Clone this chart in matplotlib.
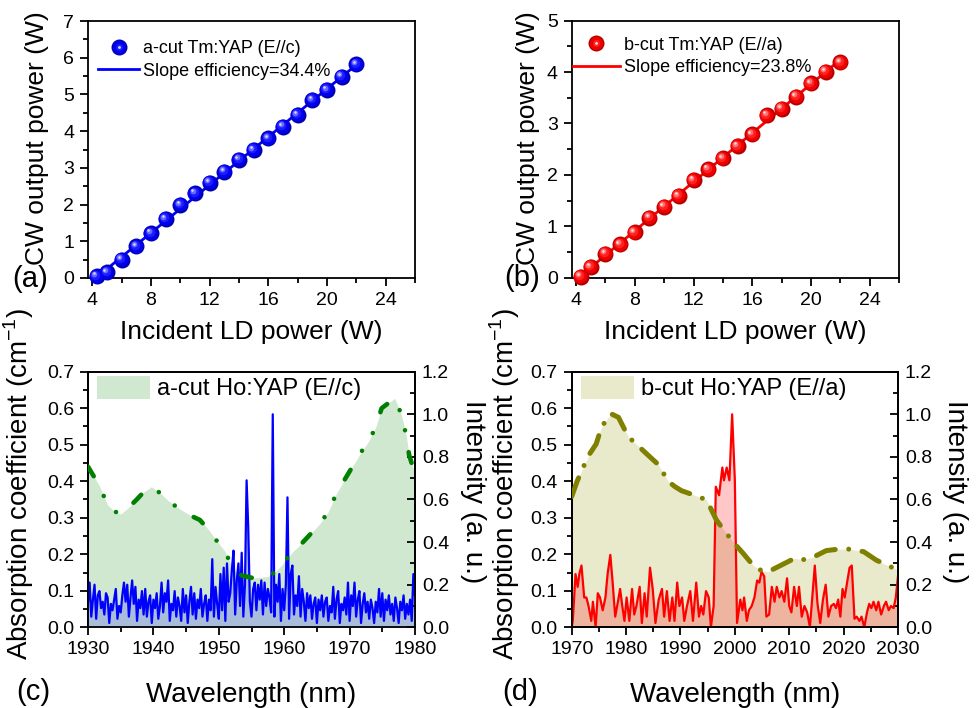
import numpy as np
import matplotlib.pyplot as plt
from matplotlib.lines import Line2D
from matplotlib.patches import Patch
from matplotlib.legend_handler import HandlerTuple
from matplotlib.ticker import MultipleLocator, FormatStrFormatter
from matplotlib.transforms import offset_copy

plt.rcParams['font.family'] = ['Liberation Sans', 'DejaVu Sans']
plt.rcParams['mathtext.fontset'] = 'custom'
plt.rcParams['mathtext.rm'] = 'Liberation Sans'
plt.rcParams['lines.scale_dashes'] = False

# ---------------- CW laser output ----------------
pump_a = [4.3, 5, 6, 7, 8, 9, 10, 11, 12, 13, 14, 15, 16, 17, 18, 19, 20, 21, 22]
power_a = [0.05, 0.15, 0.50, 0.86, 1.22, 1.61, 1.99, 2.31, 2.60, 2.90, 3.22, 3.49,
           3.80, 4.12, 4.44, 4.85, 5.12, 5.48, 5.82]
pump_b = [4.3, 5, 6, 7, 8, 9, 10, 11, 12, 13, 14, 15, 16, 17, 18, 19, 20, 21, 22]
power_b = [0.02, 0.21, 0.47, 0.65, 0.88, 1.17, 1.38, 1.59, 1.90, 2.11, 2.32, 2.56,
           2.79, 3.16, 3.29, 3.52, 3.78, 4.01, 4.19]

# ---------------- absorption (left axis) ----------------
wl_abs_c = [1930, 1931, 1931.8, 1933, 1934, 1935, 1936.2, 1937.4, 1938.5, 1939.7,
            1941, 1942.2, 1943.3, 1944.4, 1945.8, 1947.1, 1948.4, 1949.6, 1950.9,
            1952.3, 1953.5, 1955.2, 1957.5, 1958.5, 1959.5, 1960.4, 1961.3, 1962.7,
            1964, 1965.5, 1966.7, 1968, 1969.5, 1970.6, 1971.8, 1972.8, 1974,
            1974.9, 1976, 1976.9, 1977.9, 1978.6, 1979.1, 1980]
abs_c = [0.44, 0.41, 0.385, 0.335, 0.318, 0.31, 0.328, 0.349, 0.37, 0.385,
         0.368, 0.348, 0.333, 0.32, 0.305, 0.294, 0.268, 0.239, 0.209,
         0.157, 0.142, 0.135, 0.139, 0.15, 0.168, 0.188, 0.207, 0.23,
         0.255, 0.285, 0.315, 0.367, 0.412, 0.445, 0.481, 0.506, 0.548,
         0.60, 0.615, 0.627, 0.584, 0.53, 0.472, 0.42]

wl_abs_d = [1970, 1971, 1972.1, 1973.3, 1974.5, 1975.5, 1976.5, 1977.2, 1978.6,
            1980.4, 1982.2, 1984, 1985.9, 1987.8, 1989, 1990.2, 1992.5, 1994.8,
            1996.6, 1998.2, 2000, 2001.5, 2003.4, 2004.8, 2006.1, 2008.5, 2011,
            2012.5, 2014.4, 2016.8, 2019, 2021.1, 2023.7, 2026, 2028, 2030]
abs_d = [0.358, 0.40, 0.438, 0.475, 0.502, 0.549, 0.57, 0.585, 0.575,
         0.522, 0.497, 0.472, 0.446, 0.399, 0.385, 0.374, 0.362, 0.349,
         0.294, 0.262, 0.228, 0.203, 0.169, 0.156, 0.152, 0.17, 0.189,
         0.185, 0.192, 0.21, 0.214, 0.214, 0.207, 0.184, 0.17, 0.157]

# ---------------- laser spectra (right axis) ----------------
wl_em_c = np.arange(1930, 1980.001, 0.25)
em_c = [0.12, 0.21, 0.05, 0.13, 0.20, 0.04, 0.15, 0.17, 0.09, 0.12,
        0.06, 0.16, 0.14, 0.02, 0.11, 0.08, 0.13, 0.18, 0.04, 0.10,
        0.07, 0.15, 0.21, 0.12, 0.20, 0.05, 0.14, 0.22, 0.11, 0.19,
        0.03, 0.13, 0.09, 0.17, 0.06, 0.18, 0.05, 0.12, 0.15, 0.02,
        0.13, 0.09, 0.16, 0.04, 0.10, 0.21, 0.07, 0.16, 0.12, 0.22,
        0.03, 0.11, 0.08, 0.17, 0.05, 0.14, 0.10, 0.03, 0.18, 0.07,
        0.15, 0.02, 0.12, 0.19, 0.06, 0.16, 0.04, 0.13, 0.09, 0.18,
        0.05, 0.11, 0.15, 0.03, 0.13, 0.08, 0.32, 0.05, 0.19, 0.11,
        0.04, 0.25, 0.08, 0.28, 0.03, 0.30, 0.12, 0.16, 0.27, 0.36,
        0.06, 0.22, 0.30, 0.10, 0.35, 0.05, 0.20, 0.69, 0.47, 0.12,
        0.05, 0.18, 0.21, 0.08, 0.20, 0.13, 0.22, 0.06, 0.21, 0.10,
        0.18, 0.14, 0.07, 1.00, 0.05, 0.20, 0.12, 0.25, 0.03, 0.18,
        0.08, 0.20, 0.61, 0.04, 0.25, 0.29, 0.06, 0.15, 0.10, 0.24,
        0.05, 0.18, 0.12, 0.03, 0.16, 0.09, 0.15, 0.04, 0.11, 0.14,
        0.02, 0.13, 0.08, 0.15, 0.05, 0.12, 0.14, 0.03, 0.10, 0.07,
        0.19, 0.04, 0.13, 0.17, 0.02, 0.11, 0.08, 0.14, 0.06, 0.21,
        0.03, 0.15, 0.10, 0.21, 0.05, 0.13, 0.17, 0.02, 0.11, 0.16,
        0.07, 0.12, 0.04, 0.13, 0.09, 0.02, 0.12, 0.07, 0.18, 0.05,
        0.16, 0.03, 0.13, 0.08, 0.15, 0.06, 0.11, 0.03, 0.14, 0.09,
        0.02, 0.12, 0.08, 0.15, 0.04, 0.11, 0.06, 0.13, 0.03, 0.25,
        0.15]

wl_em_d = [1970.0, 1970.2, 1970.7, 1971.1, 1971.4, 1971.8, 1972.3, 1972.7, 1973.1, 1973.6,
           1973.9, 1974.4, 1974.8, 1975.2, 1975.7, 1976.2, 1976.6, 1977.1, 1977.5, 1978.0,
           1978.5, 1978.9, 1979.3, 1979.7, 1980.1, 1980.6, 1981.1, 1981.5, 1981.9, 1982.5,
           1982.9, 1983.4, 1983.8, 1984.4, 1984.9, 1985.4, 1986.0, 1986.6, 1987.0, 1987.5,
           1988.0, 1988.5, 1988.9, 1989.4, 1989.8, 1990.3, 1990.7, 1991.2, 1991.8, 1992.3,
           1992.9, 1993.4, 1993.8, 1994.2, 1994.7, 1995.2, 1995.6, 1996.1, 1996.5, 1997.1,
           1997.7, 1998.0, 1998.5, 1999.0, 1999.5, 2000.0, 2000.4, 2001.0, 2001.4, 2001.7,
           2002.2, 2002.6, 2003.1, 2003.6, 2004.1, 2004.5, 2004.9, 2005.4, 2005.8, 2006.3,
           2006.8, 2007.3, 2007.7, 2008.2, 2008.6, 2009.1, 2009.6, 2010.0, 2010.4, 2010.9,
           2011.4, 2011.8, 2012.3, 2012.8, 2013.3, 2013.8, 2014.3, 2014.7, 2015.2, 2015.7,
           2016.2, 2016.7, 2017.2, 2017.7, 2018.2, 2018.6, 2019.0, 2019.4, 2019.8, 2020.2,
           2020.7, 2021.1, 2021.5, 2022.0, 2022.4, 2022.9, 2023.3, 2023.8, 2024.3, 2024.7,
           2025.1, 2025.5, 2026.0, 2026.4, 2026.9, 2027.4, 2027.8, 2028.3, 2028.7, 2029.2,
           2029.6, 2030.0]
em_d = [0.00, 0.03, 0.25, 0.19, 0.25, 0.29, 0.14, 0.14, 0.10, 0.03,
        0.12, 0.00, 0.16, 0.14, 0.08, 0.14, 0.25, 0.34, 0.22, 0.05,
        0.12, 0.18, 0.10, 0.03, 0.14, 0.03, 0.18, 0.06, 0.10, 0.19,
        0.02, 0.16, 0.05, 0.28, 0.18, 0.02, 0.13, 0.18, 0.05, 0.17,
        0.03, 0.14, 0.03, 0.21, 0.10, 0.14, 0.03, 0.10, 0.17, 0.03,
        0.21, 0.05, 0.10, 0.06, 0.17, 0.14, 0.00, 0.10, 0.66, 0.62,
        0.75, 0.69, 0.75, 0.69, 1.00, 0.69, 0.02, 0.13, 0.08, 0.14,
        0.03, 0.08, 0.10, 0.14, 0.22, 0.21, 0.26, 0.24, 0.05, 0.06,
        0.19, 0.12, 0.19, 0.14, 0.17, 0.12, 0.23, 0.10, 0.07, 0.19,
        0.10, 0.19, 0.05, 0.10, 0.07, 0.00, 0.16, 0.29, 0.11, 0.02,
        0.13, 0.20, 0.05, 0.10, 0.11, 0.09, 0.13, 0.05, 0.18, 0.14,
        0.22, 0.28, 0.29, 0.04, 0.05, 0.03, 0.05, 0.00, 0.07, 0.11,
        0.09, 0.12, 0.08, 0.12, 0.06, 0.10, 0.12, 0.08, 0.10, 0.09,
        0.14, 0.24]

W, H = 976, 708
fig = plt.figure(figsize=(W / 100, H / 100), dpi=100)


def box(x0, y0, x1, y1):
    # pixel box -> figure fraction
    return [x0 / W, 1 - y1 / H, (x1 - x0) / W, (y1 - y0) / H]


ax_a = fig.add_axes(box(88, 21, 415, 278))
ax_b = fig.add_axes(box(571.7, 20.7, 899, 277.7))
ax_c = fig.add_axes(box(88, 371.7, 415, 627.3))
ax_d = fig.add_axes(box(571.7, 371.7, 898, 627.3))


def style(ax):
    for s in ax.spines.values():
        s.set_linewidth(1.3)
    ax.tick_params(which='both', direction='out', width=1.3, labelsize=14,
                   top=False, right=False, pad=4)
    ax.tick_params(which='major', length=6)
    ax.tick_params(which='minor', length=3.5)


def balls(ax, x, y, shades, ms=11.5):
    # layered markers give the shaded sphere look
    layers = [(1.0, 0.0), (0.86, 0.45), (0.6, 1.1), (0.36, 1.7), (0.16, 2.0)]
    for (frac, off), col in zip(layers, shades):
        tr = offset_copy(ax.transData, fig=fig, x=-off, y=off, units='points')
        ax.plot(x, y, ls='none', marker='o', ms=ms * frac, mfc=col, mec='none',
                transform=tr, zorder=3, clip_on=False)


def cw_panel(ax, pump, power, color, shades, ymax, label, slope):
    fit = np.polyfit(pump, power, 1)
    xs = np.array([pump[0], pump[-1]])
    ax.plot(xs, np.polyval(fit, xs), color=color, lw=2, zorder=2)
    balls(ax, pump, power, shades)
    ax.set_xlim(3.7, 26)
    ax.set_ylim(0, ymax)
    ax.xaxis.set_major_locator(MultipleLocator(4))
    ax.xaxis.set_minor_locator(MultipleLocator(2))
    ax.yaxis.set_major_locator(MultipleLocator(1))
    ax.yaxis.set_minor_locator(MultipleLocator(0.5))
    style(ax)
    ax.set_xlabel('Incident LD power (W)', fontsize=19)
    ax.set_ylabel('CW output power (W)', fontsize=19)
    ball_h = (Line2D([], [], ls='none', marker='o', ms=11.5, mfc=shades[0], mec='none'),
              Line2D([], [], ls='none', marker='o', ms=9.5, mfc=shades[1], mec='none'),
              Line2D([], [], ls='none', marker='o', ms=5, mfc=shades[2], mec='none'),
              Line2D([], [], ls='none', marker='o', ms=2, mfc=shades[4], mec='none'))
    line_h = Line2D([], [], color=color, lw=2)
    return [ball_h, line_h], [label, 'Slope efficiency=%s' % slope]


h, l = cw_panel(ax_a, pump_a, power_a, 'blue',
                ['#0000b0', '#0000ee', '#1c1cff', '#6a6aff', '#d8d8ff'], 7,
                'a-cut Tm:YAP (E//c)', '34.4%')
ax_a.legend(h, l, loc='upper left', bbox_to_anchor=(0.03, 0.925), frameon=False,
            fontsize=13, borderpad=0, borderaxespad=0, labelspacing=0.3,
            handlelength=2.3, handletextpad=0.2,
            handler_map={tuple: HandlerTuple(ndivide=1, pad=0)})
ax_a.xaxis.set_label_coords(0.5, -0.165)
ax_a.yaxis.set_label_coords(-0.118, 0.545)

h, l = cw_panel(ax_b, pump_b, power_b, 'red',
                ['#b40000', '#ee0000', '#ff2020', '#ff7070', '#ffdcdc'], 5,
                'b-cut Tm:YAP (E//a)', '23.8%')
ax_b.legend(h, l, loc='upper left', bbox_to_anchor=(0.004, 0.938), frameon=False,
            fontsize=13, borderpad=0, borderaxespad=0, labelspacing=0.3,
            handlelength=2.6, handletextpad=0.2,
            handler_map={tuple: HandlerTuple(ndivide=1, pad=0)})
ax_b.xaxis.set_label_coords(0.5, -0.165)
ax_b.yaxis.set_label_coords(-0.098, 0.545)


def spec_panel(ax, wl_abs, absorb, fill_col, line_col, dashes, lw,
               wl_em, em, em_col, em_fill, em_lw, xlim, label):
    ax.fill_between(wl_abs, absorb, color=fill_col, lw=0, zorder=1)
    ax.set_xlim(*xlim)
    ax.set_ylim(0, 0.7)
    ax.xaxis.set_major_locator(MultipleLocator(10))
    ax.xaxis.set_minor_locator(MultipleLocator(5))
    ax.yaxis.set_major_locator(MultipleLocator(0.1))
    ax.yaxis.set_minor_locator(MultipleLocator(0.05))
    ax.yaxis.set_major_formatter(FormatStrFormatter('%.1f'))
    style(ax)
    ax.set_xlabel('Wavelength (nm)', fontsize=20)
    ax.set_ylabel('Absorption coefficient (cm$^{-1}$)', fontsize=20)

    ax2 = ax.twinx()
    ax2.fill_between(wl_em, em, color=em_fill, lw=0, zorder=1)
    ax2.plot(wl_em, em, color=em_col, lw=em_lw, zorder=2)
    ax2.plot(wl_abs, absorb, color=line_col, lw=lw, dashes=dashes,
             dash_capstyle='round', transform=ax.transData, zorder=4)
    ax2.set_xlim(*xlim)
    ax2.set_ylim(0, 1.2)
    ax2.yaxis.set_major_locator(MultipleLocator(0.2))
    ax2.yaxis.set_minor_locator(MultipleLocator(0.1))
    ax2.yaxis.set_major_formatter(FormatStrFormatter('%.1f'))
    for s in ax2.spines.values():
        s.set_linewidth(1.3)
    ax2.tick_params(which='both', direction='in', width=1.3, labelsize=14,
                    right=True, left=False, top=False, bottom=False, pad=5)
    ax2.tick_params(which='major', length=6)
    ax2.tick_params(which='minor', length=3.5)
    ax2.set_ylabel('Intensity (a. u.)', fontsize=20, rotation=270, va='bottom')

    ax.legend([Patch(facecolor=fill_col, edgecolor='none')], [label],
              loc='upper left', bbox_to_anchor=(0.027, 0.985), frameon=False,
              fontsize=17, borderpad=0, borderaxespad=0, handlelength=2.25,
              handleheight=1.15, handletextpad=0.3)
    ax.xaxis.set_label_coords(0.5, -0.215)
    return ax2


ax2_c = spec_panel(ax_c, wl_abs_c, abs_c, '#cfe8cf', '#008000',
                   (8.0, 16.0, 0.01, 15.0, 0.01, 16.0), 3.3,
                   wl_em_c, em_c, 'blue', '#a9bddb', 1.6, (1930, 1980),
                   'a-cut Ho:YAP (E//c)')
ax_c.yaxis.set_label_coords(-0.158, 0.56)
ax2_c.yaxis.set_label_coords(1.138, 0.53)

ax2_d = spec_panel(ax_d, wl_abs_d, abs_d, '#e9e9cc', '#808000',
                   (14.4, 9.7, 0.01, 9.7), 3.6,
                   wl_em_d, em_d, 'red', (1.0, 0.0, 0.0, 0.22), 1.6, (1970, 2030),
                   'b-cut Ho:YAP (E//a)')
ax_d.yaxis.set_label_coords(-0.153, 0.56)
ax2_d.yaxis.set_label_coords(1.135, 0.53)

# panel letters
for txt, x, y in [('(a)', 12, 279), ('(b)', 504, 278), ('(c)', 16, 692), ('(d)', 502, 692)]:
    fig.text(x / W, 1 - y / H, txt, fontsize=21, ha='left', va='center')

fig.savefig('out.png', dpi=100)
